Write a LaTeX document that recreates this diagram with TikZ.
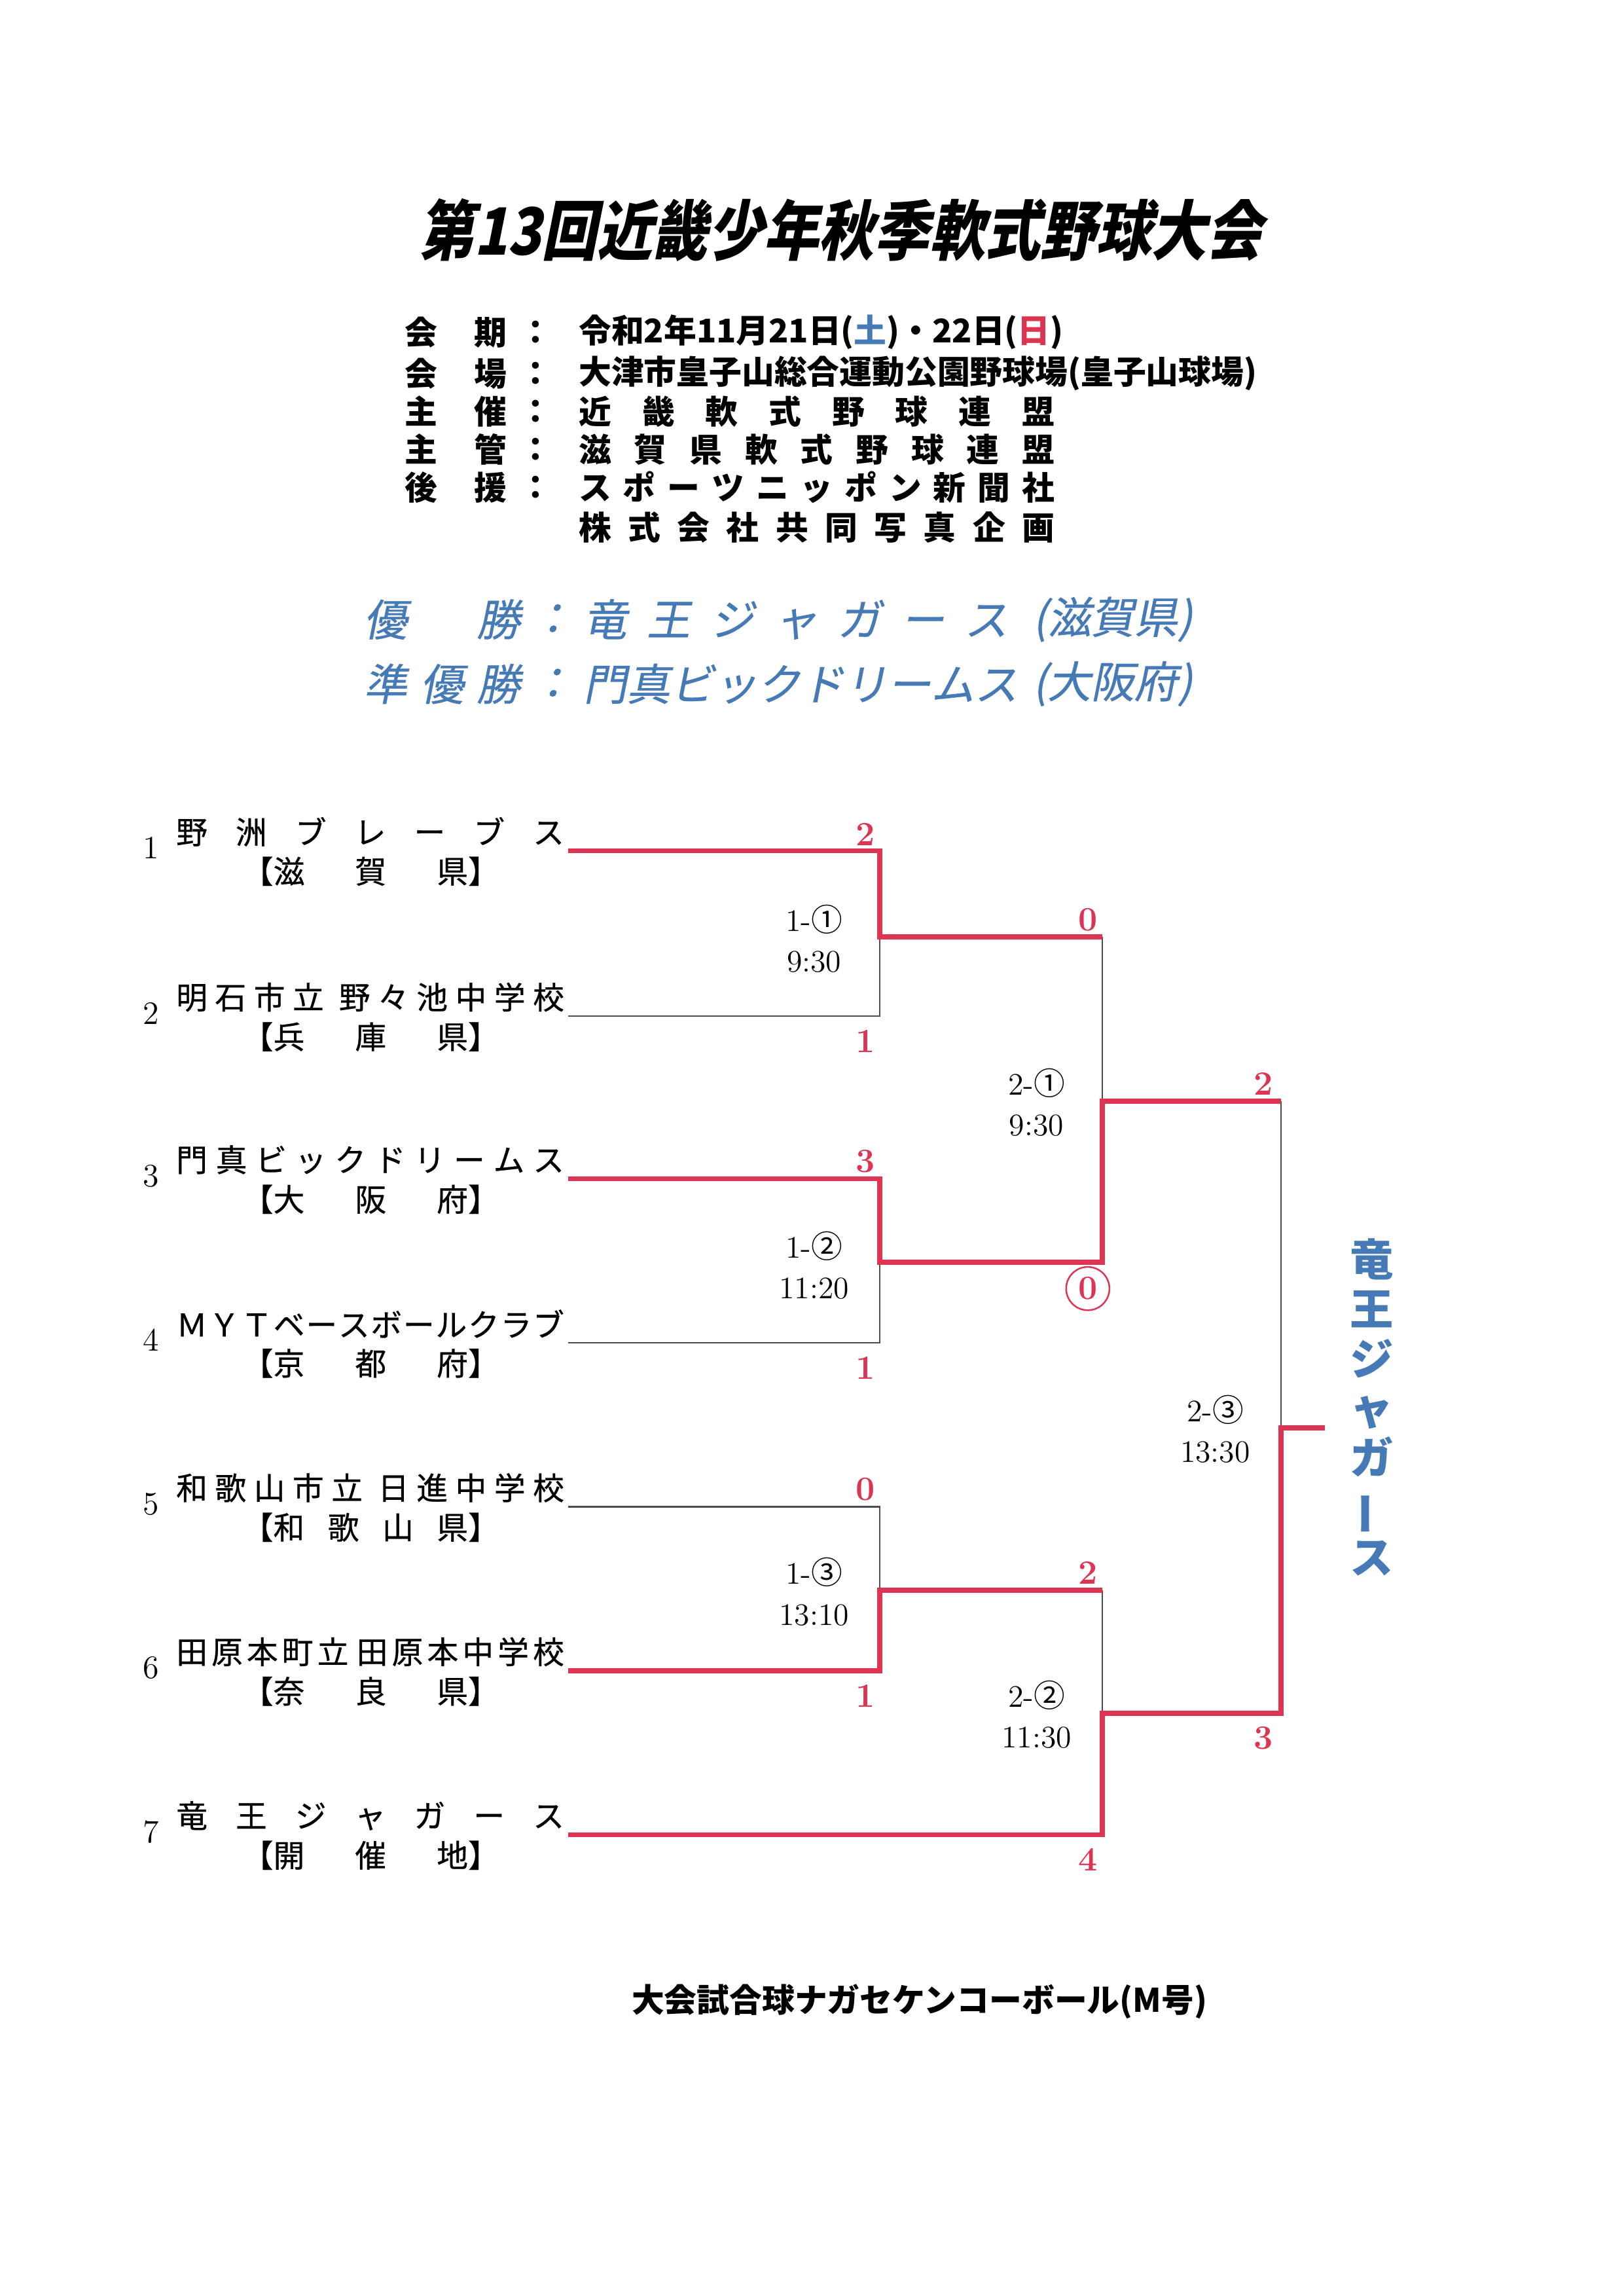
\documentclass[tikz,border=0pt]{standalone}
\usepackage{fontspec}
\usepackage{graphicx}
\newfontfamily\jp{Noto Sans CJK JP}
\newfontfamily\jpname[FakeBold=0.6]{Noto Sans CJK JP}
\newfontfamily\jpslant[FakeSlant=0.2,FakeBold=0.5]{Noto Sans CJK JP}
\newfontfamily\jptitle[FakeSlant=0.2,FakeStretch=0.85]{Noto Sans CJK JP}
\definecolor{winred}{RGB}{221,52,84}
\definecolor{champblue}{RGB}{70,122,182}
\newlength\px
\setlength\px{0.1894mm}
\makeatletter
\newcommand{\spreadtext}[2]{\makebox[#1][s]{\@tfor\sp@ch:=#2\do{\sp@ch\hfill}\unskip}}
\makeatother

\begin{document}
\begin{tikzpicture}[x=0.1894mm,y=-0.1894mm,
  titletxt/.style={font=\jptitle\bfseries\fontsize{24pt}{24pt}\selectfont},
  infotxt/.style={font=\jp\bfseries\fontsize{12pt}{12pt}\selectfont,anchor=west,inner sep=0},
  champtxt/.style={font=\jpslant\fontsize{16pt}{16pt}\selectfont,text=champblue,anchor=west,inner sep=0},
  teamtxt/.style={font=\jpname\fontsize{11.5pt}{11.5pt}\selectfont,anchor=west,inner sep=0},
  seednum/.style={font=\fontsize{12pt}{12pt}\selectfont,inner sep=0},
  score/.style={font=\bfseries\fontsize{12.5pt}{12.5pt}\selectfont,text=winred,inner sep=0},
  matchlbl/.style={font=\fontsize{11.5pt}{15pt}\selectfont,align=center,inner sep=0},
  winline/.style={draw=winred,line width=1.9pt},
  loseline/.style={draw=black!70,line width=0.5pt}]
  \fill[white] (0,0) rectangle (1109,1568);
  \useasboundingbox (0,0) rectangle (1109,1568);
  % title
  \node[titletxt] (title) at (574,157) {第13回近畿少年秋季軟式野球大会};
  % outline
  \node[infotxt] (k1) at (276,227) {\spreadtext{70\px}{会期}};
  \node[infotxt,anchor=center] (c1) at (366,227) {：};
  \node[infotxt] (v1) at (395,227) {令和2年11月21日(\textcolor{champblue}{土})・22日(\textcolor{winred}{日})};
  \node[infotxt] (k2) at (276,255) {\spreadtext{70\px}{会場}};
  \node[infotxt,anchor=center] (c2) at (366,255) {：};
  \node[infotxt] (v2) at (395,255) {大津市皇子山総合運動公園野球場(皇子山球場)};
  \node[infotxt] (k3) at (276,281) {\spreadtext{70\px}{主催}};
  \node[infotxt,anchor=center] (c3) at (366,281) {：};
  \node[infotxt] (v3) at (395,281) {\spreadtext{325\px}{近畿軟式野球連盟}};
  \node[infotxt] (k4) at (276,307) {\spreadtext{70\px}{主管}};
  \node[infotxt,anchor=center] (c4) at (366,307) {：};
  \node[infotxt] (v4) at (395,307) {\spreadtext{325\px}{滋賀県軟式野球連盟}};
  \node[infotxt] (k5) at (276,333) {\spreadtext{70\px}{後援}};
  \node[infotxt,anchor=center] (c5) at (366,333) {：};
  \node[infotxt] (v5) at (395,333) {\spreadtext{325\px}{スポーツニッポン新聞社}};
  \node[infotxt] (v6) at (395,360) {\spreadtext{325\px}{株式会社共同写真企画}};
  % result
  \node[champtxt] (w1) at (248,423) {\spreadtext{107\px}{優勝}};
  \node[champtxt,anchor=center] (w1c) at (377,423) {：};
  \node[champtxt] (w1n) at (398,423) {\spreadtext{290\px}{竜王ジャガース}};
  \node[champtxt] (w1p) at (705,423) {(滋賀県)};
  \node[champtxt] (w2) at (248,467) {\spreadtext{107\px}{準優勝}};
  \node[champtxt,anchor=center] (w2c) at (377,467) {：};
  \node[champtxt] (w2n) at (398,467) {\spreadtext{290\px}{門真ビックドリームス}};
  \node[champtxt] (w2p) at (705,467) {(大阪府)};
  % teams
  \node[seednum] (no1) at (103,579) {1};
  \node[teamtxt] (n1) at (120,568) {\spreadtext{265\px}{野洲ブレーブス}};
  \node[teamtxt] (p1) at (165,595) {【\spreadtext{133\px}{滋賀県}】};
  \node[seednum] (no2) at (103,692) {2};
  \node[teamtxt] (n2) at (120,681) {\spreadtext{265\px}{明石市立{}野々池中学校}};
  \node[teamtxt] (p2) at (165,708) {【\spreadtext{133\px}{兵庫県}】};
  \node[seednum] (no3) at (103,803) {3};
  \node[teamtxt] (n3) at (120,792) {\spreadtext{265\px}{門真ビックドリームス}};
  \node[teamtxt] (p3) at (165,819) {【\spreadtext{133\px}{大阪府}】};
  \node[seednum] (no4) at (103,915) {4};
  \node[teamtxt] (n4) at (120,904) {\spreadtext{265\px}{ＭＹＴベースボールクラブ}};
  \node[teamtxt] (p4) at (165,931) {【\spreadtext{133\px}{京都府}】};
  \node[seednum] (no5) at (103,1027) {5};
  \node[teamtxt] (n5) at (120,1016) {\spreadtext{265\px}{和歌山市立{}日進中学校}};
  \node[teamtxt] (p5) at (165,1043) {【\spreadtext{133\px}{和歌山県}】};
  \node[seednum] (no6) at (103,1139) {6};
  \node[teamtxt] (n6) at (120,1128) {\spreadtext{265\px}{田原本町立{}田原本中学校}};
  \node[teamtxt] (p6) at (165,1155) {【\spreadtext{133\px}{奈良県}】};
  \node[seednum] (no7) at (103,1251) {7};
  \node[teamtxt] (n7) at (120,1240) {\spreadtext{265\px}{竜王ジャガース}};
  \node[teamtxt] (p7) at (165,1267) {【\spreadtext{133\px}{開催地}】};
  % bracket points
  \coordinate (t1) at (388,581);
  \coordinate (t2) at (388,694);
  \coordinate (t3) at (388,805);
  \coordinate (t4) at (388,917);
  \coordinate (t5) at (388,1029);
  \coordinate (t6) at (388,1141);
  \coordinate (t7) at (388,1253);
  \coordinate (m1) at (601,640);
  \coordinate (m2) at (601,862);
  \coordinate (m3) at (601,1086);
  \coordinate (s1) at (753,752);
  \coordinate (s2) at (753,1170);
  \coordinate (f) at (875,975);
  \coordinate (champ) at (905,975);
  % losers
  \draw[loseline] (t2) -| (m1);
  \draw[loseline] (t4) -| (m2);
  \draw[loseline] (t5) -| (m3);
  \draw[loseline] (m1 -| s1) -- (s1);
  \draw[loseline] (m3 -| s2) -- (s2);
  \draw[loseline] (s1 -| f) -- (f);
  % winners
  \draw[winline] (t1) -| (m1) -- (m1 -| s1);
  \draw[winline] (t3) -| (m2) -- (m2 -| s1) -- (s1) -- (s1 -| f);
  \draw[winline] (t6) -| (m3) -- (m3 -| s2);
  \draw[winline] (t7) -| (s2) -- (s2 -| f) -- (f) -- (champ);
  % scores
  \node[score] (sc1) at (591,570) {2};
  \node[score] (sc2) at (591,711) {1};
  \node[score] (sc3) at (591,793) {3};
  \node[score] (sc4) at (591,934) {1};
  \node[score] (sc5) at (591,1017) {0};
  \node[score] (sc6) at (591,1158) {1};
  \node[score] (sc7) at (743,628) {0};
  \node[score,draw=winred,circle,line width=0.6pt,minimum size=5.6mm] (sc8) at (743,880) {0};
  \node[score] (sc9) at (743,1074) {2};
  \node[score] (sc10) at (743,1270) {4};
  \node[score] (sc11) at (863,740) {2};
  \node[score] (sc12) at (863,1187) {3};
  % games
  \node[matchlbl] (g1) at (556,641) {1-{\jp ①}\\9:30};
  \node[matchlbl] (g2) at (556,864) {1-{\jp ②}\\11:20};
  \node[matchlbl] (g3) at (556,1087) {1-{\jp ③}\\13:10};
  \node[matchlbl] (g4) at (708,753) {2-{\jp ①}\\9:30};
  \node[matchlbl] (g5) at (708,1171) {2-{\jp ②}\\11:30};
  \node[matchlbl] (g6) at (830,976) {2-{\jp ③}\\13:30};
  % champion
  \node[font=\jp\bfseries\fontsize{16pt}{18.3pt}\selectfont,text=champblue,align=center,inner sep=0] (winner) at (937,961)
    {竜\\王\\ジ\\ャ\\ガ\\\rotatebox[origin=c]{90}{ー}\\ス};
  % ball
  \node[font=\jp\bfseries\fontsize{12pt}{12pt}\selectfont] (ball) at (628,1367) {大会試合球ナガセケンコーボール(M号)};
\end{tikzpicture}
\end{document}
